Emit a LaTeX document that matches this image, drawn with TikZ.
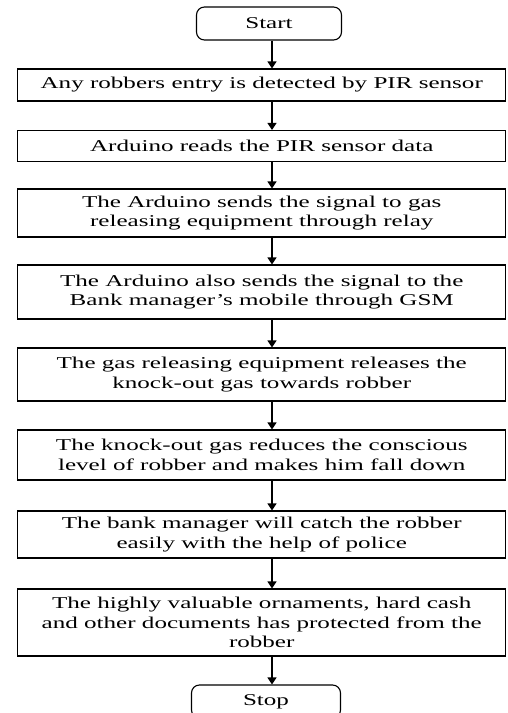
\documentclass[tikz,border=0pt]{standalone}
\usepackage{fontspec}
\setmainfont{Liberation Serif}[FakeStretch=1.52]
\usepackage{tikz}
\usetikzlibrary{calc,positioning,arrows.meta,shapes}

\begin{document}
\begin{tikzpicture}[x=1pt,y=1pt,
  stepbox/.style={draw,line width=1.1pt,rectangle,inner sep=0pt,minimum width=488pt,align=center,font=\fontsize{16.5}{19.5}\selectfont},
  term/.style={draw,line width=1.1pt,rounded corners=8pt,inner sep=0pt,minimum width=145pt,minimum height=33pt,font=\fontsize{16.5}{19.5}\selectfont},
  arr/.style={-{Triangle[length=7pt,width=9pt]},line width=1.4pt}]
     \useasboundingbox (0,0) rectangle (507,713);
     \coordinate (ax) at (272,0);

     \node[term] (start) at (269,689.5) {Start};
     \node[stepbox,minimum height=32pt] (b1) at (261.75,628) {Any robbers entry is detected by PIR sensor};
     \node[stepbox,minimum height=31pt] (b2) at (261.75,567) {Arduino reads the PIR sensor data};
     \node[stepbox,minimum height=48pt] (b3) at (261.75,500) {The Arduino sends the signal to gas\\releasing equipment through relay};
     \node[stepbox,minimum height=54pt] (b4) at (261.75,421) {The Arduino also sends the signal to the\\Bank manager’s mobile through GSM};
     \node[stepbox,minimum height=53pt] (b5) at (261.75,338.5) {The gas releasing equipment releases the\\knock-out gas towards robber};
     \node[stepbox,minimum height=50pt] (b6) at (261.75,258) {The knock-out gas reduces the conscious\\level of robber and makes him fall down};
     \node[stepbox,minimum height=47pt] (b7) at (261.75,178.5) {The bank manager will catch the robber\\easily with the help of police};
     \node[stepbox,minimum height=67pt] (b8) at (261.75,90.5) {The highly valuable ornaments, hard cash\\and other documents has protected from the\\robber};
     \node[term,minimum width=149pt] (stop) at (266,11.5) {Stop};

     \draw[arr] (start.south -| ax) -- (b1.north -| ax);
     \draw[arr] (b1.south -| ax) -- (b2.north -| ax);
     \draw[arr] (b2.south -| ax) -- (b3.north -| ax);
     \draw[arr] (b3.south -| ax) -- (b4.north -| ax);
     \draw[arr] (b4.south -| ax) -- (b5.north -| ax);
     \draw[arr] (b5.south -| ax) -- (b6.north -| ax);
     \draw[arr] (b6.south -| ax) -- (b7.north -| ax);
     \draw[arr] (b7.south -| ax) -- (b8.north -| ax);
     \draw[arr] (b8.south -| ax) -- (stop.north -| ax);
\end{tikzpicture}
\end{document}
